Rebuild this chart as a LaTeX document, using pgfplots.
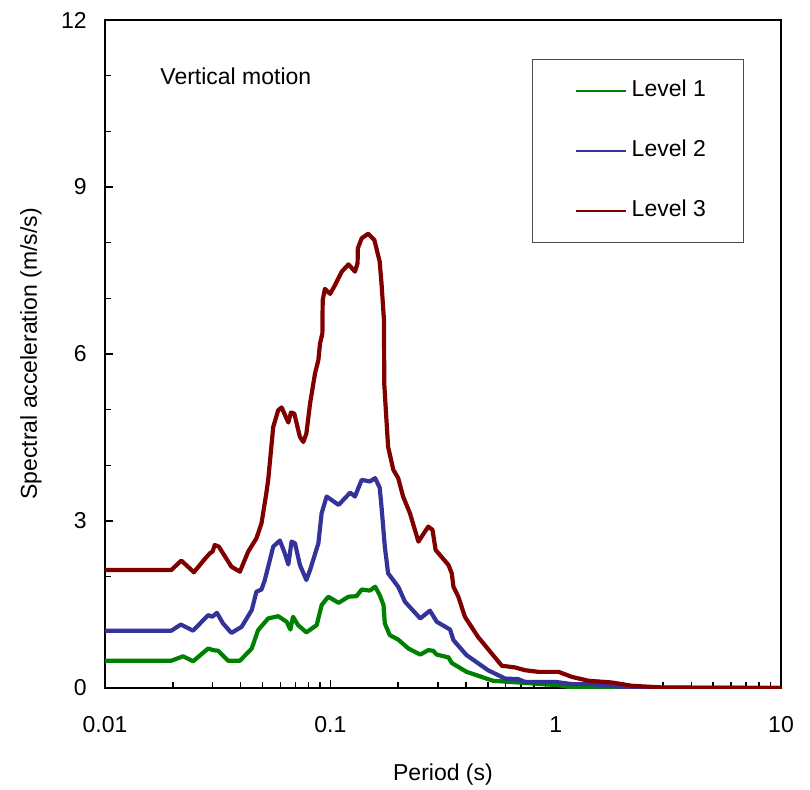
\documentclass[border=0pt]{standalone}
\usepackage{fontspec}
\setmainfont{Liberation Sans}
\usepackage{pgfplots}
\pgfplotsset{compat=1.18}
\definecolor{lvone}{RGB}{0,128,0}
\definecolor{lvtwo}{RGB}{51,51,153}
\definecolor{lvthree}{RGB}{128,0,0}
\begin{document}
\begin{tikzpicture}
\begin{axis}[
 xmode=log, scale only axis, width=338pt, height=334pt,
 xmin=0.01, xmax=10, ymin=0, ymax=12,
 xtick={0.01,0.1,1,10}, xticklabels={0.01,0.1,1,10},
 minor xtick={0.02,0.03,0.04,0.05,0.06,0.07,0.08,0.09,0.2,0.3,0.4,0.5,0.6,0.7,0.8,0.9,2,3,4,5,6,7,8,9},
 ytick={0,3,6,9,12}, yticklabels={0,3,6,9,12},
 minor ytick={1,2,4,5,7,8,10,11},
 tick align=inside, xtick pos=bottom, ytick pos=left,
 major tick length=4pt, minor tick length=3pt,
 every tick/.style={black, line width=0.8pt},
 axis line style={line width=0.8pt},
 font=\fontsize{11.5}{13.8}\selectfont,
 xticklabel style={inner sep=0pt, anchor=north, yshift=-14pt},
 yticklabel style={inner sep=0pt, anchor=east, xshift=-9pt},
 xlabel={Period (s)}, ylabel={Spectral acceleration (m/s/s)},
 xlabel style={at={(axis description cs:0.5,-0.1123)}, anchor=north, inner sep=0pt},
 ylabel style={at={(axis description cs:-0.0932,0.5)}, anchor=south, inner sep=0pt},
 legend style={at={(0.6317,0.9416)}, anchor=north west, draw=black!70, line width=0.5pt, fill=white,
   inner xsep=18pt, inner ysep=9pt, row sep=16.6pt,
   nodes={inner sep=1pt, text height=8.4pt, text depth=3pt},
   font=\fontsize{11.5}{13.8}\selectfont},
 legend cell align=left,
 legend image code/.code={\path (-2.5pt,0pt); \path (26pt,0pt); \draw[#1,line width=1.4pt] (0pt,0pt) -- (25pt,0pt);},
 every axis plot/.append style={line join=round, line width=2.1pt},
]
\addplot[lvone] coordinates {
(0.01,0.49) (0.0197,0.49) (0.0222,0.57) (0.0246,0.48) (0.0287,0.71) (0.0302,0.68)
(0.0318,0.67) (0.0352,0.49) (0.0397,0.49) (0.0448,0.71) (0.0478,1.04) (0.0530,1.25)
(0.0587,1.29) (0.0640,1.19) (0.0665,1.05) (0.0683,1.28) (0.0719,1.13) (0.0783,1.00)
(0.0870,1.13) (0.0915,1.49) (0.0979,1.64) (0.1088,1.53) (0.1204,1.64) (0.1307,1.65)
(0.1378,1.77) (0.1497,1.75) (0.1581,1.82) (0.1656,1.67) (0.1722,1.49) (0.1745,1.16)
(0.1836,0.95) (0.2001,0.87) (0.2220,0.71) (0.2507,0.60) (0.2720,0.68) (0.2857,0.67)
(0.2967,0.60) (0.3345,0.55) (0.3459,0.45) (0.4023,0.29) (0.4688,0.20) (0.5276,0.13)
(0.6823,0.10) (1.03,0.05) (1.18,0.01) (1.8,0) (10,0)
};
\addlegendentry{Level 1}
\addplot[lvtwo] coordinates {
(0.01,1.03) (0.0197,1.03) (0.0217,1.14) (0.0246,1.03) (0.0287,1.31) (0.0299,1.28)
(0.0314,1.35) (0.0334,1.16) (0.0364,0.99) (0.0404,1.10) (0.0448,1.40) (0.0470,1.73)
(0.0495,1.77) (0.0512,1.94) (0.0558,2.54) (0.0597,2.65) (0.0628,2.42) (0.0651,2.22)
(0.0673,2.63) (0.0697,2.60) (0.0733,2.21) (0.0783,1.94) (0.0813,2.12) (0.0885,2.60)
(0.0915,3.14) (0.0963,3.44) (0.1088,3.29) (0.1225,3.51) (0.1286,3.44) (0.1378,3.74)
(0.1497,3.71) (0.1581,3.77) (0.1656,3.60) (0.1687,3.26) (0.1745,2.54) (0.1805,2.06)
(0.2001,1.82) (0.2144,1.55) (0.2507,1.25) (0.2767,1.39) (0.2967,1.19) (0.3400,1.05)
(0.3519,0.86) (0.4023,0.59) (0.5010,0.32) (0.5968,0.17) (0.6823,0.16) (0.7307,0.11)
(0.9974,0.11) (1.18,0.07) (1.45,0.07) (1.77,0.04) (2.18,0.0) (10,0)
};
\addlegendentry{Level 2}
\addplot[lvthree] coordinates {
(0.01,2.12) (0.0197,2.12) (0.0218,2.29) (0.0248,2.08) (0.0275,2.30) (0.0292,2.42)
(0.0300,2.45) (0.0307,2.57) (0.0320,2.54) (0.0364,2.18) (0.0397,2.09) (0.0432,2.45)
(0.0470,2.69) (0.0495,2.96) (0.0520,3.50) (0.0530,3.74) (0.0558,4.69) (0.0587,4.99)
(0.0608,5.04) (0.0651,4.77) (0.0669,4.95) (0.0692,4.93) (0.0733,4.51) (0.0759,4.42)
(0.0783,4.57) (0.0813,5.11) (0.0855,5.65) (0.0885,5.89) (0.0900,6.19) (0.0922,6.37)
(0.0925,6.97) (0.0946,7.17) (0.0998,7.08) (0.1050,7.24) (0.1124,7.48) (0.1204,7.61)
(0.1286,7.48) (0.1321,7.63) (0.1325,7.90) (0.1378,8.08) (0.1472,8.16) (0.1568,8.05)
(0.1656,7.66) (0.1687,7.27) (0.1730,6.61) (0.1735,5.47) (0.1760,5.05) (0.1805,4.33)
(0.1904,3.92) (0.2001,3.77) (0.2103,3.44) (0.2256,3.14) (0.2460,2.63) (0.2720,2.90)
(0.2841,2.84) (0.2933,2.48) (0.3345,2.21) (0.3459,2.06) (0.3519,1.82) (0.3700,1.64)
(0.3956,1.28) (0.4520,0.92) (0.5202,0.62) (0.5769,0.40) (0.6600,0.37) (0.7307,0.32)
(0.8392,0.29) (1.03,0.29) (1.18,0.20) (1.40,0.13) (1.77,0.10) (2.18,0.04) (2.96,0.01) (10,0)
};
\addlegendentry{Level 3}
\node[anchor=base west, inner sep=0pt, font=\fontsize{11.5}{13.8}\selectfont] at (rel axis cs:0.0814,0.904) {Vertical motion};
\end{axis}
\path (current axis.south west) ++(-52.5pt,-50.5pt);
\path (current axis.north east) ++(14.5pt,10pt);
\end{tikzpicture}
\end{document}
